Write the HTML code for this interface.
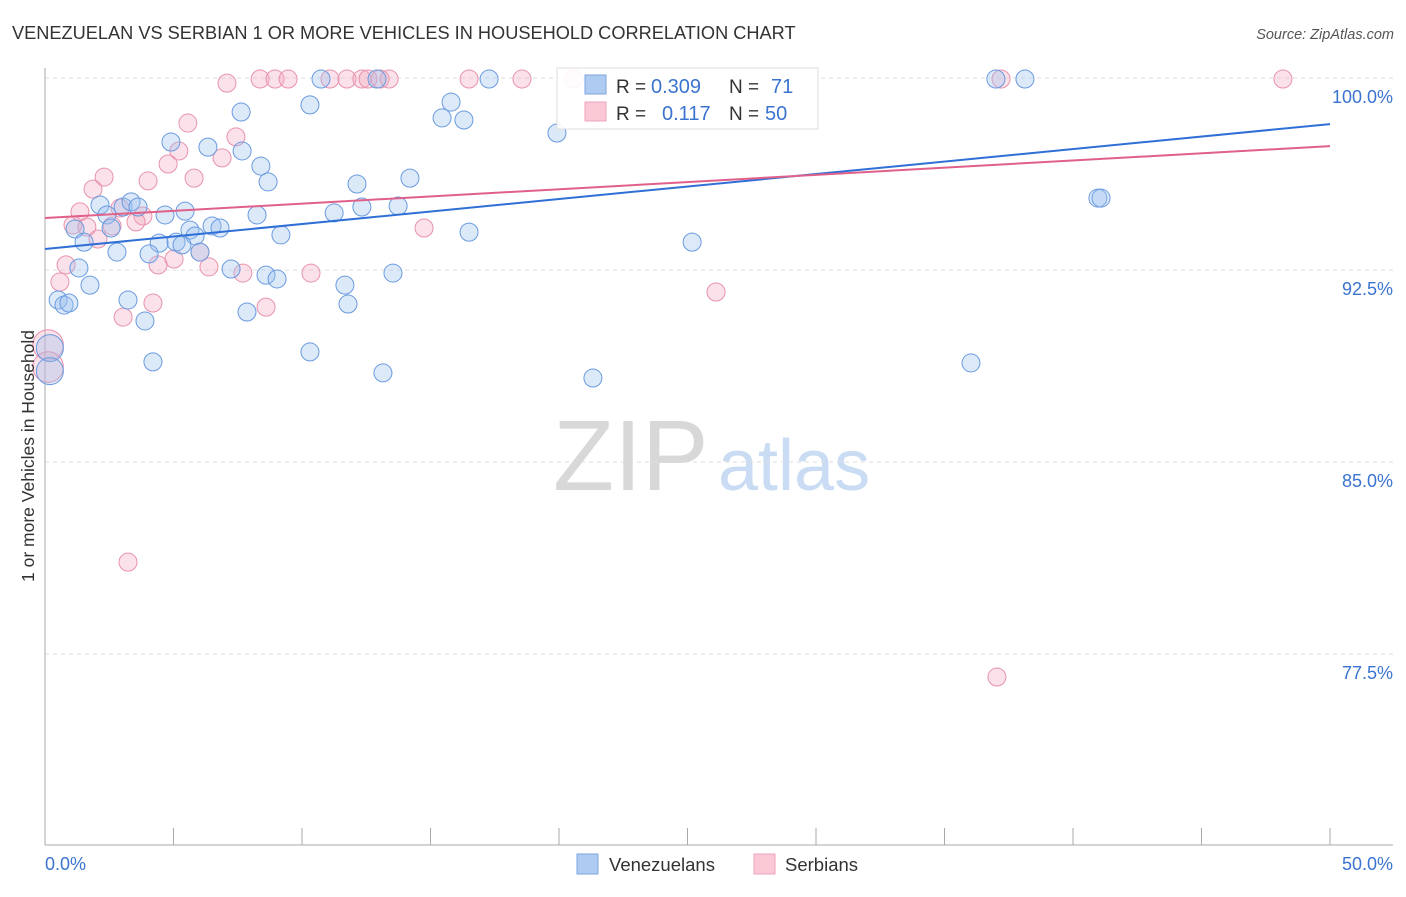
<!DOCTYPE html>
<html><head><meta charset="utf-8"><style>
body{margin:0;background:#fff;font-family:"Liberation Sans",sans-serif}
svg text{font-family:"Liberation Sans",sans-serif}
</style></head><body>
<svg id="chart" width="1406" height="892" viewBox="0 0 1406 892" xmlns="http://www.w3.org/2000/svg">
<text x="12" y="39" font-size="18.2" fill="#333">VENEZUELAN VS SERBIAN 1 OR MORE VEHICLES IN HOUSEHOLD CORRELATION CHART</text>
<text x="1394" y="39" font-size="14.5" fill="#555" text-anchor="end" font-style="italic">Source: ZipAtlas.com</text>
<g>
<text x="553" y="490" font-size="100" fill="#d8d8d8" font-family="Liberation Serif">ZIP</text>
<text x="718" y="490" font-size="72" fill="#c9dcf3">atlas</text>
</g>
<g id="grid"></g>
<g id="axes"></g>
<g id="pts"></g>
<g id="lines"></g>
<text transform="translate(34,456) rotate(-90)" font-size="17.5" fill="#333" text-anchor="middle">1 or more Vehicles in Household</text>
<g>
<rect x="557" y="68" width="261" height="61" fill="#fff" fill-opacity="0.9" stroke="#ddd"/>
<rect x="585" y="75" width="21" height="19" fill="#aecbf2" stroke="#7ea6e0"/>
<rect x="585" y="102" width="21" height="19" fill="#fbc9d6" stroke="#eba4ba"/>
<text x="616" y="93" font-size="19" fill="#333">R =</text>
<text x="651" y="93" font-size="20" fill="#3b74d0">0.309</text>
<text x="729" y="93" font-size="19" fill="#333">N =</text>
<text x="771" y="93" font-size="20" fill="#3b74d0">71</text>
<text x="616" y="120" font-size="19" fill="#333">R =</text>
<text x="662" y="120" font-size="20" fill="#3b74d0">0.117</text>
<text x="729" y="120" font-size="19" fill="#333">N =</text>
<text x="765" y="120" font-size="20" fill="#3b74d0">50</text>
</g>
<g>
<rect x="577" y="854" width="21" height="20" fill="#aecbf2" stroke="#7ea6e0"/>
<text x="609" y="871" font-size="18.5" fill="#333">Venezuelans</text>
<rect x="754" y="854" width="21" height="20" fill="#fbc9d6" stroke="#eba4ba"/>
<text x="785" y="871" font-size="18.5" fill="#333">Serbians</text>
</g>
</svg>
<script>
const yTicks=[100,92.5,85,77.5];
const yTickLabels=["100.0%","92.5%","85.0%","77.5%"];
const xTicks=[0,5,10,15,20,25,30,35,40,45,50];
const blueX=[10.74,12.92,17.28,37.0,38.13,10.31,15.8,15.45,16.3,19.92,7.63,4.9,6.34,7.67,8.4,8.68,12.14,14.2,40.97,41.09,2.14,3.04,3.35,3.62,5.45,4.67,2.41,8.25,11.25,12.33,13.74,1.17,2.57,5.64,6.5,6.81,5.84,9.18,16.5,25.18,1.52,4.44,5.1,5.33,2.8,4.05,6.03,7.24,1.32,8.6,9.03,13.54,1.75,11.67,0.51,0.74,0.93,3.23,11.79,7.86,3.89,10.31,4.2,13.15,21.32,36.03,0.19,0.19];
const blueY=[99.96,99.96,99.96,99.96,99.96,98.95,99.06,98.44,98.36,97.85,98.67,97.5,97.3,97.15,96.56,95.94,95.86,96.09,95.31,95.31,95.04,94.96,95.16,94.96,94.8,94.65,94.65,94.65,94.73,94.96,95.0,94.1,94.14,94.06,94.22,94.14,93.83,93.87,93.98,93.59,93.59,93.55,93.59,93.48,93.2,93.13,93.2,92.54,92.58,92.3,92.15,92.38,91.91,91.91,91.33,91.13,91.21,91.33,91.17,90.86,90.51,89.3,88.91,88.48,88.28,88.87,89.45,88.55];
const blueSize=blueX.map((v,i)=>i>=66?1.5:1);
const pinkX=[7.08,8.37,8.95,9.46,11.09,11.75,12.33,12.57,13.04,13.39,16.5,18.56,20.58,37.2,48.17,5.56,7.43,5.21,6.89,4.79,5.8,2.3,4.01,1.87,1.36,2.92,3.81,3.54,1.09,1.63,2.06,2.61,5.02,6.03,4.4,6.38,7.7,10.35,8.6,0.82,0.58,3.04,4.2,14.75,26.11,3.23,37.04,0.12,0.12];
const pinkY=[99.8,99.96,99.96,99.96,99.96,99.96,99.96,99.96,99.96,99.96,99.96,99.96,99.96,99.96,99.96,98.24,97.7,97.15,96.88,96.64,96.09,96.13,95.98,95.66,94.77,94.92,94.61,94.38,94.26,94.18,93.71,94.22,92.93,93.2,92.7,92.62,92.38,92.38,91.05,92.7,92.03,90.66,91.21,94.14,91.64,81.09,76.6,89.57,88.71];
const pinkSize=pinkX.map((v,i)=>i>=47?1.7:1);
const blueTrend=[93.32,98.2];
const pinkTrend=[94.53,97.34];

const NS="http://www.w3.org/2000/svg";
const X=v=>45+v/50*1285;
const Y=v=>78+(100-v)/7.5*192;
function mk(tag,attrs,parent){const e=document.createElementNS(NS,tag);for(const k in attrs)e.setAttribute(k,attrs[k]);parent.appendChild(e);return e;}
const grid=document.getElementById('grid'),axes=document.getElementById('axes'),pts=document.getElementById('pts'),lines=document.getElementById('lines');
yTicks.forEach((t,i)=>{
 const l=mk('line',{x1:45,x2:1393,y1:Y(t),y2:Y(t),stroke:'#ddd','stroke-dasharray':'4,4'},grid);
 
 
 const tx=mk('text',{x:1393,y:Y(t)+25,'font-size':18,fill:'#3b74d0','text-anchor':'end'},grid);
 tx.textContent=yTickLabels[i];
 
 
});
const ya=mk('line',{x1:45,x2:45,y1:68,y2:845,stroke:'#aaa'},axes);


const xa=mk('line',{x1:45,x2:1393,y1:845,y2:845,stroke:'#aaa'},axes);


xTicks.forEach(t=>{
 const l=mk('line',{x1:X(t),x2:X(t),y1:828,y2:845,stroke:'#aaa'},axes);
 
 
});
const xl0=mk('text',{x:45,y:870,'font-size':18,fill:'#3b74d0'},axes);xl0.textContent='0.0%';


const xl1=mk('text',{x:1393,y:870,'font-size':18,fill:'#3b74d0','text-anchor':'end'},axes);xl1.textContent='50.0%';


function drawPts(xs,ys,ss,fill,stroke,name){
 xs.forEach((x,i)=>{
  const c=mk('circle',{cx:X(x),cy:Y(ys[i]),r:9*ss[i],fill:fill,'fill-opacity':0.35,stroke:stroke,'stroke-width':1},pts);
  
  
 });
}
drawPts(pinkX,pinkY,pinkSize,'#f4a9c0','#e893ad','serbian-point');
drawPts(blueX,blueY,blueSize,'#9cc0ef','#6a9be0','venezuelan-point');
const bl=mk('line',{x1:X(0),x2:X(50),y1:Y(blueTrend[0]),y2:Y(blueTrend[1]),stroke:'#2f6fd6','stroke-width':2},lines);


const pl=mk('line',{x1:X(0),x2:X(50),y1:Y(pinkTrend[0]),y2:Y(pinkTrend[1]),stroke:'#e0608a','stroke-width':2},lines);


</script>
</body></html>
